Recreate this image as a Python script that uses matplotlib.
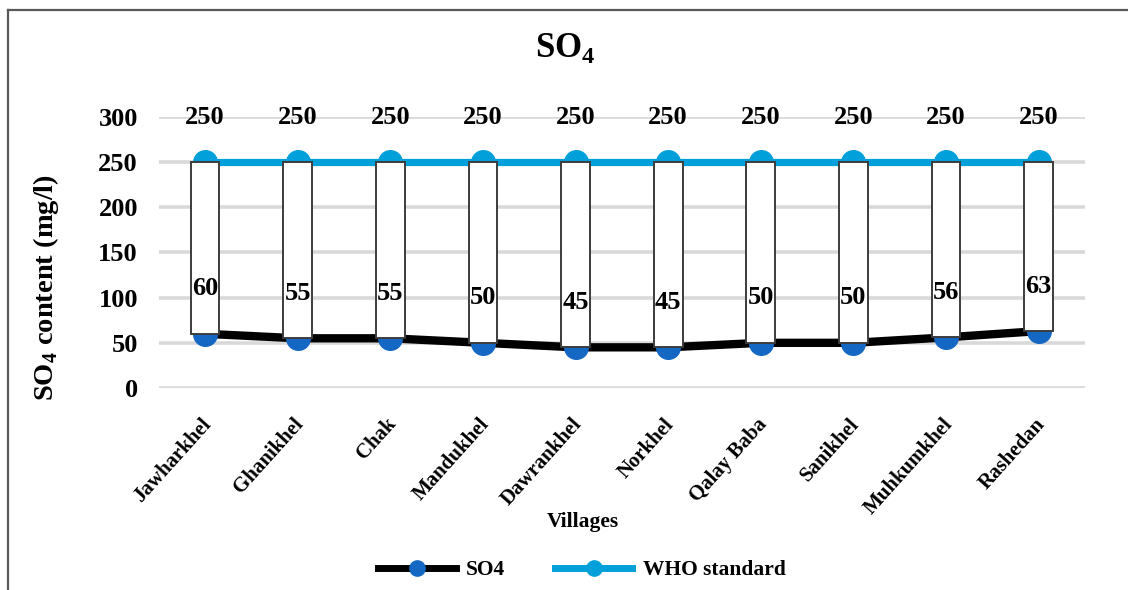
import matplotlib
matplotlib.use("Agg")
import matplotlib.pyplot as plt
from matplotlib.lines import Line2D
from matplotlib.patches import Rectangle
import numpy as np

plt.rcParams['font.family'] = ['Liberation Serif', 'DejaVu Serif']
plt.rcParams['font.weight'] = 'bold'
plt.rcParams['mathtext.fontset'] = 'custom'
plt.rcParams['mathtext.rm'] = 'Liberation Serif'
plt.rcParams['mathtext.bf'] = 'Liberation Serif:bold'

villages = ["Jawharkhel", "Ghanikhel", "Chak", "Mandukhel", "Dawrankhel",
            "Norkhel", "Qalay Baba", "Sanikhel", "Muhkumkhel", "Rashedan"]
so4 = [60, 55, 55, 50, 45, 45, 50, 50, 56, 63]
who = [250, 250, 250, 250, 250, 250, 250, 250, 250, 250]
yticks = [0, 50, 100, 150, 200, 250, 300]

SO4_LINE = "#000000"
SO4_MARK = "#1468C4"
WHO_BLUE = "#02A0DA"
GRID = "#D9D9D9"

fig = plt.figure(figsize=(11.28, 5.90), dpi=100)
ax = fig.add_axes([0.1407, 0.3424, 0.9619 - 0.1407, 0.8017 - 0.3424])

x = np.arange(len(villages))

ax.set_ylim(0, 300)
ax.set_xlim(-0.5, len(villages) - 0.5)
ax.set_yticks(yticks)
ax.set_yticklabels([str(t) for t in yticks], fontsize=19, fontweight='bold')
ax.yaxis.grid(True, color=GRID, linewidth=2.6)
ax.set_axisbelow(True)
ax.tick_params(axis='y', length=0, pad=15)
ax.tick_params(axis='x', length=0, labelbottom=False)
for s in ax.spines.values():
    s.set_visible(False)

# series lines with markers
ax.plot(x, who, color=WHO_BLUE, linewidth=5.2, marker='o', markersize=17,
        markerfacecolor=WHO_BLUE, markeredgecolor=WHO_BLUE, zorder=3)
ax.plot(x, so4, color=SO4_LINE, linewidth=6.0, marker='o', markersize=17,
        markerfacecolor=SO4_MARK, markeredgecolor=SO4_MARK, zorder=3)

# up/down bars between the two series
bw = 0.31
for xi, lo, hi in zip(x, so4, who):
    ax.add_patch(Rectangle((xi - bw / 2, lo), bw, hi - lo, facecolor='white',
                           edgecolor='#3C3C3C', linewidth=1.4, zorder=4))

# value labels
for xi, v in zip(x, who):
    ax.annotate(str(v), xy=(xi, v), xytext=(0, 45), textcoords='offset pixels',
                ha='center', va='center', fontsize=19, fontweight='bold',
                zorder=6, annotation_clip=False)
for xi, v in zip(x, so4):
    ax.annotate(str(v), xy=(xi, v), xytext=(0, 45), textcoords='offset pixels',
                ha='center', va='center', fontsize=19, fontweight='bold',
                zorder=6, annotation_clip=False)

# rotated category labels
for xi, name in zip(x, villages):
    ax.annotate(name, xy=(xi, 0), xytext=(3, -33), textcoords='offset pixels',
                ha='right', va='center', rotation=48, rotation_mode='anchor',
                fontsize=15, fontweight='bold', annotation_clip=False)

ax.set_ylabel("SO$_\\mathbf{4}$ content (mg/l)", fontsize=20.5, fontweight='bold')
ax.yaxis.set_label_coords(-0.105, 0.37)

fig.text(0.517, 1 - 522 / 590, "Villages", ha='center', va='center',
         fontsize=15.5, fontweight='bold')
fig.text(0.501, 1 - 48 / 590, "SO$_\\mathbf{4}$", ha='center', va='center',
         fontsize=25, fontweight='bold')

handles = [
    Line2D([], [], color=SO4_LINE, linewidth=5, marker='o', markersize=11,
           markerfacecolor=SO4_MARK, markeredgecolor=SO4_MARK),
    Line2D([], [], color=WHO_BLUE, linewidth=5, marker='o', markersize=11,
           markerfacecolor=WHO_BLUE, markeredgecolor=WHO_BLUE),
]
fig.legend(handles, ["SO4", "WHO standard"], loc='center',
           bbox_to_anchor=(0.516, 1 - 570 / 590), ncol=2, frameon=False,
           prop={'size': 15.5, 'weight': 'bold'}, handlelength=3.6,
           columnspacing=2.3, handletextpad=0.5)

# outer chart frame
fig.add_artist(Line2D([8 / 1128, 8 / 1128], [0, 1 - 10 / 590],
                      transform=fig.transFigure, color='#595959', linewidth=1.6))
fig.add_artist(Line2D([8 / 1128, 1], [1 - 10 / 590, 1 - 10 / 590],
                      transform=fig.transFigure, color='#595959', linewidth=1.6))

fig.savefig("out.png", dpi=100, facecolor='white')
